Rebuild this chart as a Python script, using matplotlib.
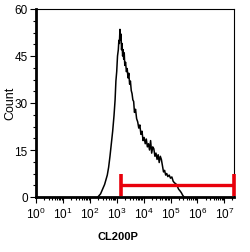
import matplotlib
matplotlib.use("Agg")
import matplotlib.pyplot as plt
import numpy as np
from matplotlib.ticker import FixedLocator, MultipleLocator

plt.rcParams['font.family'] = ['Liberation Sans', 'DejaVu Sans']
plt.rcParams['mathtext.default'] = 'regular'

# histogram: log10(CL200P) positions and counts
log_x = [2.30, 2.35, 2.40, 2.45, 2.50, 2.55, 2.60, 2.65, 2.70, 2.75, 2.80, 2.85, 2.90, 2.94,
         2.97, 3.00, 3.03, 3.06, 3.08, 3.10, 3.12, 3.14, 3.16, 3.18, 3.20, 3.22, 3.24, 3.26,
         3.28, 3.30, 3.33, 3.36, 3.39, 3.42, 3.45, 3.48, 3.51, 3.54, 3.57, 3.60, 3.63, 3.66,
         3.70, 3.74, 3.78, 3.82, 3.86, 3.90, 3.94, 3.98, 4.02, 4.06, 4.10, 4.14, 4.18, 4.22,
         4.26, 4.30, 4.34, 4.38, 4.42, 4.46, 4.50, 4.54, 4.58, 4.62, 4.66, 4.70, 4.74, 4.78,
         4.82, 4.86, 4.90, 4.95, 5.00, 5.05, 5.10, 5.15, 5.20, 5.25, 5.30, 5.35, 5.40, 5.45, 5.50]
counts = [0, 0.5, 1, 2, 3, 4, 5.5, 7, 9.5, 13, 17, 21, 26, 31,
          37, 40, 45, 47, 50, 49, 53.5, 50, 52, 47, 49, 45, 47, 44,
          46, 42, 43, 40, 41, 38, 39.5, 36, 37, 34, 33, 31, 30.5, 27,
          28, 25, 24, 22, 23, 20, 21, 18, 19, 17, 18.5, 16, 17, 15,
          18, 14, 16, 15.4, 13, 14, 12, 13.5, 11, 13, 12, 10, 8, 8.5,
          7, 7.5, 6.5, 7, 6, 6.4, 5, 4.5, 4.2, 3.5, 2.5, 2, 1.4, 0.6, 0]

gate_start = 10 ** 3.16
gate_level = 3.9
gate_cap = (0.3, 7.4)

xlabel = "CL200P"
ylabel = "Count"
ymax = 60
y_major = [0, 15, 30, 45, 60]
x_decades = [0, 1, 2, 3, 4, 5, 6, 7]

W, H = 250, 253
fig = plt.figure(figsize=(W / 100, H / 100), dpi=100)
ax = fig.add_axes([36 / W, 1 - 198 / H, 198 / W, 188 / H])

x = 10 ** np.array(log_x)
ax.plot(x, counts, color='black', lw=1.1)

xmax = 10 ** 7.36
ax.set_xscale('log')
ax.set_xlim(1, xmax)
ax.set_ylim(0, ymax)

red = '#e8000b'
ax.plot([gate_start, xmax], [gate_level, gate_level], color=red, lw=2.4, solid_capstyle='butt', clip_on=False, zorder=5)
ax.plot([gate_start, gate_start], gate_cap, color=red, lw=2.6, solid_capstyle='butt', zorder=5)
ax.plot([xmax, xmax], gate_cap, color=red, lw=2.6, solid_capstyle='butt', clip_on=False, zorder=5)

ax.xaxis.set_major_locator(FixedLocator([10 ** d for d in x_decades]))
ax.set_xticklabels([f"$10^{{{d}}}$" for d in x_decades])
minor = [m * 10 ** d for d in range(0, 8) for m in range(2, 10) if m * 10 ** d < xmax]
ax.xaxis.set_minor_locator(FixedLocator(minor))
ax.yaxis.set_major_locator(FixedLocator(y_major))
ax.yaxis.set_minor_locator(MultipleLocator(3.75))

ax.tick_params(axis='both', which='major', direction='out', length=4, width=0.8,
               labelsize=8.5, pad=2)
ax.tick_params(axis='both', which='minor', direction='out', length=2, width=0.8)

for s in ['left', 'bottom']:
    ax.spines[s].set_linewidth(2.0)
for s in ['top', 'right']:
    ax.spines[s].set_linewidth(0.8)

fig.text(10 / W, 1 - 103 / H, ylabel, fontsize=9, rotation=90, ha='center', va='center')
fig.text(118 / W, 1 - 237 / H, xlabel, fontsize=8, fontweight='bold', ha='center', va='center')

fig.savefig("out.png", dpi=100)
